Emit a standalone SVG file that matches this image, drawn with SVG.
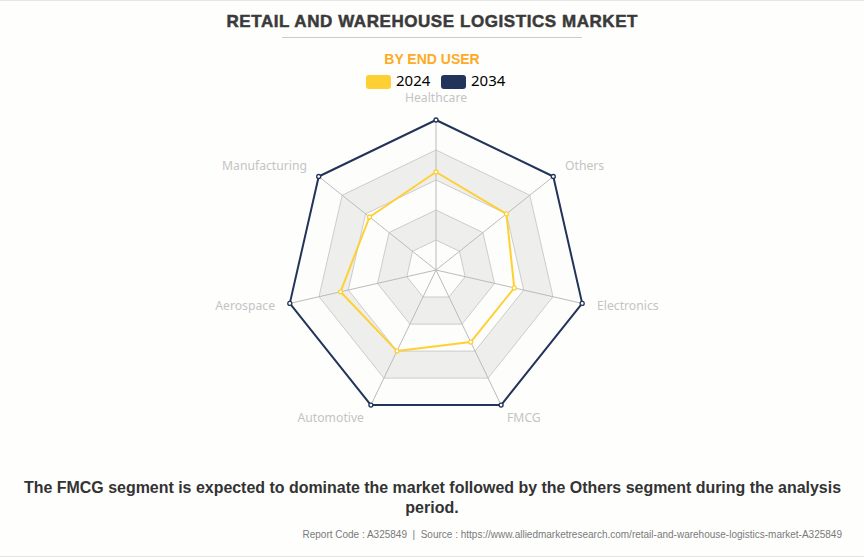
<svg xmlns="http://www.w3.org/2000/svg" width="864" height="557" viewBox="0 0 864 557">
<style>
.band{fill-rule:evenodd;stroke:none}
.ring{fill:none;stroke:#ccc;stroke-width:1}
.axis{stroke:#bbb;stroke-width:1}
.lab{font:12.2px "Noto Sans",sans-serif;fill:#c4c4c4}
.leg{font:15px "Noto Sans",sans-serif;fill:#000}
.s{fill:none;stroke-width:2;stroke-linejoin:round}
.d{fill:#fff;stroke-width:1.3}
.t{font-family:"Liberation Sans",Arial,sans-serif}
</style>
<rect width="864" height="557" fill="#fefefd"/>
<rect width="864" height="1" fill="#e6e6e6"/>
<rect y="556" width="864" height="1" fill="#e6e6e6"/>
<g id="title">
<text class="t" x="432" y="27" text-anchor="middle" font-size="17" font-weight="700" fill="#3a3a3a" stroke="#3a3a3a" stroke-width=".5" textLength="411" lengthAdjust="spacing">RETAIL AND WAREHOUSE LOGISTICS MARKET</text>
<rect x="282" y="37" width="300" height="1" fill="#ccc"/>
<text class="t" x="432" y="64" text-anchor="middle" font-size="14" font-weight="700" fill="#fdab24">BY END USER</text>
</g>
<g id="legend">
<rect x="366" y="75" width="25" height="14" rx="3" fill="#ffd033"/>
<text class="leg" x="396" y="86">2024</text>
<rect x="441" y="75" width="25" height="14" rx="3" fill="#223459"/>
<text class="leg" x="471" y="86">2034</text>
</g>
<g id="radar-grid">
<polygon points="436,120 553.3,176.5 582.2,303.4 501.1,405.1 370.9,405.1 289.8,303.4 318.7,176.5" fill="#fdfdfc"/>
<path class="band" fill="#eeeeed" d="M436,150 L529.8,195.2 553,296.7 488.1,378.1 383.9,378.1 319,296.7 342.2,195.2Z M436,180 L506.4,213.9 523.7,290 475,351.1 397,351.1 348.3,290 365.6,213.9Z"/>
<path class="band" fill="#eeeeed" d="M436,210 L482.9,232.6 494.5,283.4 462,324.1 410,324.1 377.5,283.4 389.1,232.6Z M436,240 L459.5,251.3 465.2,276.7 449,297 423,297 406.8,276.7 412.5,251.3Z"/>
<polygon class="ring" points="436,240 459.5,251.3 465.2,276.7 449,297 423,297 406.8,276.7 412.5,251.3"/>
<polygon class="ring" points="436,210 482.9,232.6 494.5,283.4 462,324.1 410,324.1 377.5,283.4 389.1,232.6"/>
<polygon class="ring" points="436,180 506.4,213.9 523.7,290 475,351.1 397,351.1 348.3,290 365.6,213.9"/>
<polygon class="ring" points="436,150 529.8,195.2 553,296.7 488.1,378.1 383.9,378.1 319,296.7 342.2,195.2"/>
<path class="axis" d="M436,270V120M436,270L553.3,176.5M436,270L582.2,303.4M436,270L501.1,405.1M436,270L370.9,405.1M436,270L289.8,303.4M436,270L318.7,176.5"/>
</g>
<g id="connectors">
<polygon class="s" stroke="#223459" points="436,120 553.3,176.5 582.2,303.4 501.1,405.1 370.9,405.1 289.8,303.4 318.7,176.5"/>
<polygon class="s" stroke="#ffd033" points="436,172 506.4,213.9 514.3,287.9 470.7,342.1 397,351.1 340.5,291.8 369.5,217"/>
</g>
<g id="series-2034-points" stroke="#223459">
<circle class="d" cx="436" cy="120" r="2"/><circle class="d" cx="553.3" cy="176.5" r="2"/><circle class="d" cx="582.2" cy="303.4" r="2"/><circle class="d" cx="501.1" cy="405.1" r="2"/><circle class="d" cx="370.9" cy="405.1" r="2"/><circle class="d" cx="289.8" cy="303.4" r="2"/><circle class="d" cx="318.7" cy="176.5" r="2"/>
</g>
<g id="series-2024-points" stroke="#ffd033">
<circle class="d" cx="436" cy="172" r="2"/><circle class="d" cx="506.4" cy="213.9" r="2"/><circle class="d" cx="514.3" cy="287.9" r="2"/><circle class="d" cx="470.7" cy="342.1" r="2"/><circle class="d" cx="397" cy="351.1" r="2"/><circle class="d" cx="340.5" cy="291.8" r="2"/><circle class="d" cx="369.5" cy="217" r="2"/>
</g>
<g id="node-healthcare"><text class="lab" x="436" y="102" text-anchor="middle">Healthcare</text></g>
<g id="node-others"><text class="lab" x="565" y="170">Others</text></g>
<g id="node-electronics"><text class="lab" x="597" y="310">Electronics</text></g>
<g id="node-fmcg"><text class="lab" x="507" y="422">FMCG</text></g>
<g id="node-automotive"><text class="lab" x="364" y="422" text-anchor="end">Automotive</text></g>
<g id="node-aerospace"><text class="lab" x="275" y="310" text-anchor="end">Aerospace</text></g>
<g id="node-manufacturing"><text class="lab" x="307" y="170" text-anchor="end">Manufacturing</text></g>
<g id="caption">
<text class="t" x="432.5" y="493" text-anchor="middle" font-size="16" font-weight="700" fill="#333" textLength="817" lengthAdjust="spacingAndGlyphs">The FMCG segment is expected to dominate the market followed by the Others segment during the analysis</text>
<text class="t" x="432" y="513" text-anchor="middle" font-size="16" font-weight="700" fill="#333">period.</text>
<text class="t" x="842" y="538" text-anchor="end" font-size="10" fill="#7a7a7a" style="white-space:pre">Report Code : A325849  |  Source : https://www.alliedmarketresearch.com/retail-and-warehouse-logistics-market-A325849</text>
</g>
</svg>
